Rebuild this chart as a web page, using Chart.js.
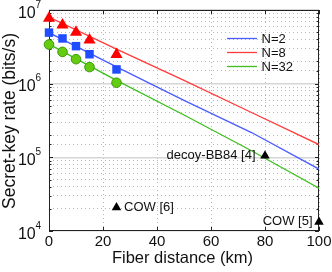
<!DOCTYPE html>
<html>
<head>
<meta charset="utf-8">
<script src="https://cdn.jsdelivr.net/npm/chart.js@4.4.1/dist/chart.umd.min.js"></script>
<style>
  html, body { margin: 0; padding: 0; background: #fff; }
</style>
</head>
<body>
<canvas id="keyRateChart" width="332" height="272"></canvas>
<script>
// measured points (markers)
const markerKm = [0, 5, 10, 15, 25];
const markerN2 = [4.93e6, 4.11e6, 3.23e6, 2.51e6, 1.56e6];
const markerN8 = [7.73e6, 6.28e6, 4.98e6, 3.92e6, 2.49e6];
const markerN32 = [3.40e6, 2.70e6, 2.15e6, 1.68e6, 1.03e6];

// simulated curves
const curveKm = [0, 25, 50, 75, 100];
const curveN2 = [4.92e6, 1.69e6, 5.92e5, 2.17e5, 6.92e4];
const curveN8 = [8.0e6, 2.94e6, 1.11e6, 4.06e5, 1.49e5];
const curveN32 = [3.44e6, 1.11e6, 3.75e5, 1.23e5, 3.81e4];

// earlier experiments
const refNames = ["decoy-BB84 [4]", "COW [6]", "COW [5]"];
const refKm = [80, 25, 100];
const refRate = [1.05e5, 2.08e4, 1.32e4];

const legendNames = ["N=2", "N=8", "N=32"];
const xTickValues = [0, 20, 40, 60, 80, 100];
const yDecades = [4, 5, 6, 7];

const FONT = "'Liberation Sans', Arial, Helvetica, sans-serif";
const lineColors = ["#4a5cff", "#ff3b3b", "#3fbf1f"];

function pts(xs, ys) {
  return xs.map((x, i) => ({ x: x, y: ys[i] }));
}
function isDecade(v) {
  const l = Math.log10(v);
  return Math.abs(l - Math.round(l)) < 1e-9;
}

// box, inward ticks, labels, legend, notes
const framePlugin = {
  id: "frame",
  beforeDatasetsDraw(chart) {
    const { ctx, chartArea: a, scales: { x, y } } = chart;
    ctx.save();
    ctx.strokeStyle = "#222";
    ctx.lineWidth = 1;
    ctx.strokeRect(a.left + 0.5, a.top + 0.5, a.right - a.left - 1, a.bottom - a.top - 1);
    ctx.beginPath();
    xTickValues.forEach(v => {
      const px = Math.round(x.getPixelForValue(v)) + 0.5;
      ctx.moveTo(px, a.bottom); ctx.lineTo(px, a.bottom - 4);
      ctx.moveTo(px, a.top); ctx.lineTo(px, a.top + 4);
    });
    y.ticks.forEach(t => {
      const py = Math.round(y.getPixelForValue(t.value)) + 0.5;
      const len = isDecade(t.value) ? 4 : 2.5;
      ctx.moveTo(a.left, py); ctx.lineTo(a.left + len, py);
      ctx.moveTo(a.right, py); ctx.lineTo(a.right - len, py);
    });
    ctx.stroke();
    ctx.restore();
  },
  afterDraw(chart) {
    const { ctx, chartArea: a, scales: { x, y } } = chart;
    ctx.save();
    ctx.fillStyle = "#111";

    // y tick labels 10^n
    yDecades.forEach(e => {
      const py = y.getPixelForValue(Math.pow(10, e));
      ctx.font = "16px " + FONT;
      ctx.textAlign = "right";
      ctx.textBaseline = "alphabetic";
      ctx.fillText("10", 35.7, py + 7.8);
      ctx.font = "10px " + FONT;
      ctx.textAlign = "left";
      ctx.fillText(String(e), 35.5, py - 2.5);
    });

    // axis titles
    ctx.font = "16.5px " + FONT;
    ctx.textAlign = "center";
    ctx.textBaseline = "alphabetic";
    ctx.fillText("Fiber distance (km)", (a.left + a.right) / 2 - 1.5, 262.5);
    ctx.save();
    ctx.translate(10, 121);
    ctx.rotate(-Math.PI / 2);
    ctx.font = "17.5px " + FONT;
    ctx.textBaseline = "middle";
    ctx.fillText("Secret-key rate (bits/s)", 0, 0);
    ctx.restore();

    // legend
    const legY = [38.5, 52.5, 66.5];
    ctx.font = "13px " + FONT;
    ctx.textAlign = "left";
    ctx.textBaseline = "middle";
    legendNames.forEach((name, i) => {
      ctx.strokeStyle = lineColors[i];
      ctx.lineWidth = 1.3;
      ctx.beginPath();
      ctx.moveTo(227, legY[i]);
      ctx.lineTo(257, legY[i]);
      ctx.stroke();
      ctx.fillText(name, 261.5, legY[i] + 0.5);
    });

    // notes next to black triangles
    ctx.font = "13px " + FONT;
    const offs = [[-9.5, "right"], [7.5, "left"], [-6.5, "right"]];
    refNames.forEach((name, i) => {
      const px = x.getPixelForValue(refKm[i]);
      const py = y.getPixelForValue(refRate[i]);
      ctx.textAlign = offs[i][1];
      ctx.fillText(name, px + offs[i][0], py - 0.5);
    });
    ctx.restore();
  }
};

new Chart(document.getElementById("keyRateChart"), {
  type: "scatter",
  data: {
    datasets: [
      { label: "ref", data: pts(refKm, refRate), pointStyle: "triangle", pointRadius: 5.5,
        backgroundColor: "#000", borderColor: "#000", borderWidth: 0, clip: false },
      { label: "N=32 meas", data: pts(markerKm, markerN32), pointStyle: "circle", pointRadius: 4.8,
        backgroundColor: "#66cc11", borderColor: "#3a9a08", borderWidth: 1, clip: false },
      { label: "N=2 meas", data: pts(markerKm, markerN2), pointStyle: "rect", pointRadius: 6,
        backgroundColor: "#1f4dff", borderColor: "#1f4dff", borderWidth: 0, clip: false },
      { label: "N=8 meas", data: pts(markerKm, markerN8), pointStyle: "triangle", pointRadius: 7,
        backgroundColor: "#ff0000", borderColor: "#ff0000", borderWidth: 0, clip: false },
      { label: "N=2", data: pts(curveKm, curveN2), showLine: true, pointRadius: 0,
        borderColor: lineColors[0], borderWidth: 1.3, fill: false },
      { label: "N=8", data: pts(curveKm, curveN8), showLine: true, pointRadius: 0,
        borderColor: lineColors[1], borderWidth: 1.3, fill: false },
      { label: "N=32", data: pts(curveKm, curveN32), showLine: true, pointRadius: 0,
        borderColor: lineColors[2], borderWidth: 1.3, fill: false }
    ]
  },
  options: {
    responsive: false,
    animation: false,
    layout: { padding: { top: 10, right: 13, left: 0, bottom: 0 } },
    plugins: { legend: { display: false }, tooltip: { enabled: false } },
    scales: {
      x: {
        type: "linear", min: 0, max: 100,
        ticks: { stepSize: 20, maxRotation: 0, autoSkip: false, padding: 2,
          color: "#111", font: { family: FONT, size: 15 } },
        grid: { color: "#b8b8b8", lineWidth: 1, drawTicks: false },
        border: { display: false, dash: [1, 3] },
        afterFit(s) { s.height = 41; s.paddingLeft = 0; s.paddingRight = 0; }
      },
      y: {
        type: "logarithmic", min: 1e4, max: 1e7,
        ticks: { display: false },
        grid: {
          drawTicks: false,
          color: c => (c.tick && isDecade(c.tick.value)) ? "#d6d6d6" : "#b8b8b8",
          lineWidth: c => (c.tick && isDecade(c.tick.value)) ? 1.5 : 1
        },
        border: {
          display: false,
          dash: c => (c.tick && isDecade(c.tick.value)) ? [] : [1, 3]
        },
        afterFit(s) { s.width = 49; }
      }
    }
  },
  plugins: [framePlugin]
});
</script>
</body>
</html>
